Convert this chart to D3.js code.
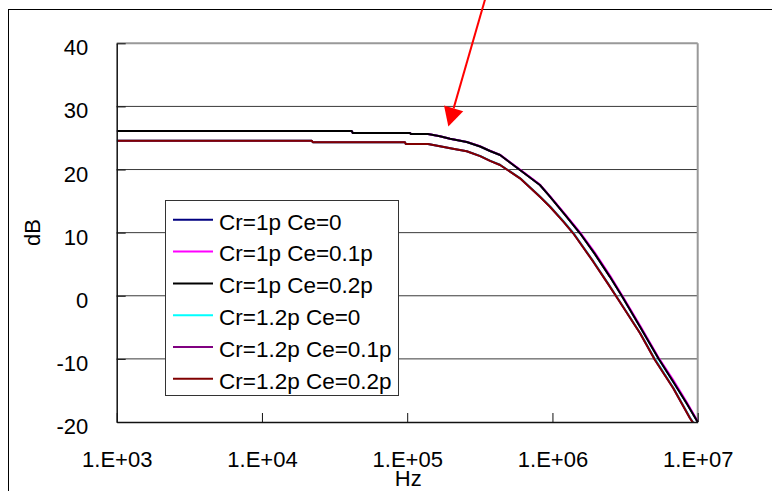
<!DOCTYPE html>
<html>
<head>
<meta charset="utf-8">
<script src="https://cdn.jsdelivr.net/npm/d3@7"></script>
<style>
html,body{margin:0;padding:0;background:#fff;}
svg{display:block;}
</style>
</head>
<body>
<script>
// ---------- data ----------
const seriesNames = ["Cr=1p Ce=0","Cr=1p Ce=0.1p","Cr=1p Ce=0.2p","Cr=1.2p Ce=0","Cr=1.2p Ce=0.1p","Cr=1.2p Ce=0.2p"];
const seriesColors = ["#000080","#FF00FF","#000000","#00FFFF","#800080","#800000"];

// Cr=1p group frequencies (Hz)
const freqA = [1000,41500,42200,104500,106000,139000,168000,197000,257000,318000,372000,436000,598000,820000,961600,1222000,1549000,1963000,2489000,3000000,4010000,5360000,6790000,8390000,10000000];
const cr1ce0   = [26.1,26.1,25.8,25.8,25.63,25.63,25.27,24.89,24.36,23.65,22.94,22.30,19.93,17.55,15.70,12.80,9.90,6.60,3.00,0.0,-4.90,-9.90,-13.61,-17.03,-20.0];
const cr1ce01  = [26.1,26.1,25.8,25.8,25.63,25.63,25.27,24.89,24.38,23.68,22.97,22.33,19.98,17.62,15.80,12.95,10.05,6.80,3.20,0.15,-4.70,-9.75,-13.35,-16.85,-19.9];
const cr1ce02  = [26.1,26.1,25.8,25.8,25.63,25.63,25.27,24.89,24.36,23.65,22.94,22.30,19.93,17.55,15.70,12.80,9.90,6.60,3.00,0.0,-4.90,-9.90,-13.61,-17.03,-20.0];

// Cr=1.2p group frequencies (Hz)
const freqB = [1000,22000,22400,96600,97700,139000,168000,206500,257000,318000,372000,436000,598000,820000,961600,1189000,1390000,1910000,2427000,2838000,4010000,5080000,6790000,8850000,10000000];
const cr12ce0  = [24.57,24.57,24.32,24.32,24.05,24.05,23.68,23.30,22.89,22.14,21.40,20.75,18.65,15.75,14.20,11.85,10.00,5.50,1.90,-0.50,-5.85,-10.0,-14.55,-19.3,-21.1];
const cr12ce01 = [24.57,24.57,24.32,24.32,24.05,24.05,23.68,23.30,22.89,22.12,21.38,20.72,18.61,15.70,14.11,11.74,9.90,5.40,1.80,-0.60,-5.94,-10.17,-14.66,-19.41,-21.2];
const cr12ce02 = [24.57,24.57,24.32,24.32,24.05,24.05,23.68,23.30,22.89,22.12,21.38,20.72,18.61,15.70,14.11,11.74,9.90,5.40,1.80,-0.60,-5.94,-10.17,-14.66,-19.41,-21.2];

const xTicks = [1e3,1e4,1e5,1e6,1e7];
const xTickLabels = ["1.E+03","1.E+04","1.E+05","1.E+06","1.E+07"];
const yTicks = [-20,-10,0,10,20,30,40];
const xTitle = "Hz";
const yTitle = "dB";
// annotation arrow: [freq, dB] of tail and tip
const arrowFrom = [343000, 46.9];
const arrowTo = [192000, 26.8];

// ---------- layout ----------
const W = 772, H = 491;
const plot = {left:116.7, right:697.7, top:43.3, bottom:422};
const FONT = "'Liberation Sans', Arial, Helvetica, sans-serif";

const svg = d3.select("body").append("svg").attr("width",W).attr("height",H);

// outer chart frame (extends beyond the window on right and bottom)
svg.append("rect").attr("x",8.5).attr("y",9.5).attr("width",900).attr("height",600)
  .attr("fill","none").attr("stroke","#000").attr("stroke-width",1);

const x = d3.scaleLog().domain([1e3,1e7]).range([plot.left, plot.right]);
const y = d3.scaleLinear().domain([-20,40]).range([plot.bottom, plot.top]);

// gridlines
svg.append("g").selectAll("line").data(yTicks.filter(v=>v>-20 && v<40)).join("line")
  .attr("x1",plot.left).attr("x2",plot.right)
  .attr("y1",d=>y(d)).attr("y2",d=>y(d))
  .attr("stroke","#3a3a3a").attr("stroke-width",1);

// top and right border (gray)
svg.append("line").attr("x1",plot.left).attr("x2",plot.right).attr("y1",y(40)).attr("y2",y(40))
  .attr("stroke","#999").attr("stroke-width",2);
svg.append("line").attr("x1",plot.right).attr("x2",plot.right).attr("y1",plot.top).attr("y2",plot.bottom)
  .attr("stroke","#999").attr("stroke-width",2);

// clip
svg.append("clipPath").attr("id","clip").append("rect")
  .attr("x",plot.left).attr("y",plot.top-2).attr("width",plot.right-plot.left+1).attr("height",plot.bottom-plot.top+2);

const series = [
  {name:seriesNames[0], color:seriesColors[0], f:freqA, v:cr1ce0},
  {name:seriesNames[1], color:seriesColors[1], f:freqA, v:cr1ce01},
  {name:seriesNames[2], color:seriesColors[2], f:freqA, v:cr1ce02},
  {name:seriesNames[3], color:seriesColors[3], f:freqB, v:cr12ce0},
  {name:seriesNames[4], color:seriesColors[4], f:freqB, v:cr12ce01},
  {name:seriesNames[5], color:seriesColors[5], f:freqB, v:cr12ce02},
];

const line = d3.line().x(d=>x(d[0])).y(d=>y(d[1]));
svg.append("g").attr("clip-path","url(#clip)").selectAll("path").data(series).join("path")
  .attr("d",s=>line(s.f.map((f,i)=>[f,s.v[i]])))
  .attr("fill","none").attr("stroke",s=>s.color).attr("stroke-width",2)
  .attr("stroke-linejoin","round");

// axes
const xAxis = d3.axisBottom(x).tickValues(xTicks).tickFormat((d,i)=>xTickLabels[i])
  .tickSizeInner(-9).tickSizeOuter(0);
const gx = svg.append("g").attr("transform",`translate(0,${plot.bottom})`).call(xAxis);
gx.select(".domain").attr("stroke","#111").attr("stroke-width",1.5);
gx.selectAll(".tick line").attr("stroke","#111").attr("stroke-width",1);
gx.selectAll(".tick text").attr("y",45.3).attr("dy",0)
  .attr("font-family",FONT).attr("font-size",22).attr("fill","#000");

const yAxis = d3.axisLeft(y).tickValues(yTicks).tickFormat(d=>String(d))
  .tickSizeInner(-9).tickSizeOuter(0);
const gy = svg.append("g").attr("transform",`translate(${plot.left},0)`).call(yAxis);
gy.select(".domain").attr("stroke","#111").attr("stroke-width",1.5);
gy.selectAll(".tick line").attr("stroke","#111").attr("stroke-width",1);
gy.selectAll(".tick text").attr("x",-28.4).attr("dy",0).attr("y",11.5)
  .attr("text-anchor","end")
  .attr("font-family",FONT).attr("font-size",22).attr("fill","#000");

// axis titles
svg.append("text").attr("x",408.3).attr("y",485.6).attr("text-anchor","middle")
  .attr("font-family",FONT).attr("font-size",22).text(xTitle);
svg.append("text").attr("transform",`translate(39.5,${(plot.top+plot.bottom)/2}) rotate(-90)`)
  .attr("text-anchor","middle")
  .attr("font-family",FONT).attr("font-size",22).text(yTitle);

// legend
const lg = svg.append("g");
lg.append("rect").attr("x",165.5).attr("y",200.5).attr("width",233).attr("height",195)
  .attr("fill","#fff").attr("stroke","#333").attr("stroke-width",1);
const rowY = i => 221.3 + i*31.8;
lg.selectAll("line.lg").data(series).join("line").attr("class","lg")
  .attr("x1",173).attr("x2",213).attr("y1",(d,i)=>rowY(i)-1.5).attr("y2",(d,i)=>rowY(i)-1.5)
  .attr("stroke",d=>d.color).attr("stroke-width",2);
lg.selectAll("text").data(series).join("text")
  .attr("x",219).attr("y",(d,i)=>rowY(i)+8.3)
  .attr("font-family",FONT).attr("font-size",22.5).attr("fill","#000")
  .text(d=>d.name);

// red annotation arrow
const tip = [x(arrowTo[0]), y(arrowTo[1])];
const tail = [x(arrowFrom[0]), y(arrowFrom[1])];
const dx = tail[0]-tip[0], dy = tail[1]-tip[1];
const L = Math.hypot(dx,dy), ux = dx/L, uy = dy/L;
const headLen = 19, headHalf = 10;
const base = [tip[0]+ux*headLen, tip[1]+uy*headLen];
svg.append("line").attr("x1",tail[0]).attr("y1",tail[1]).attr("x2",base[0]).attr("y2",base[1])
  .attr("stroke","#FF0000").attr("stroke-width",2);
svg.append("polygon")
  .attr("points",[tip,[base[0]-uy*headHalf, base[1]+ux*headHalf],[base[0]+uy*headHalf, base[1]-ux*headHalf]].map(p=>p.join(",")).join(" "))
  .attr("fill","#FF0000");
</script>
</body>
</html>
